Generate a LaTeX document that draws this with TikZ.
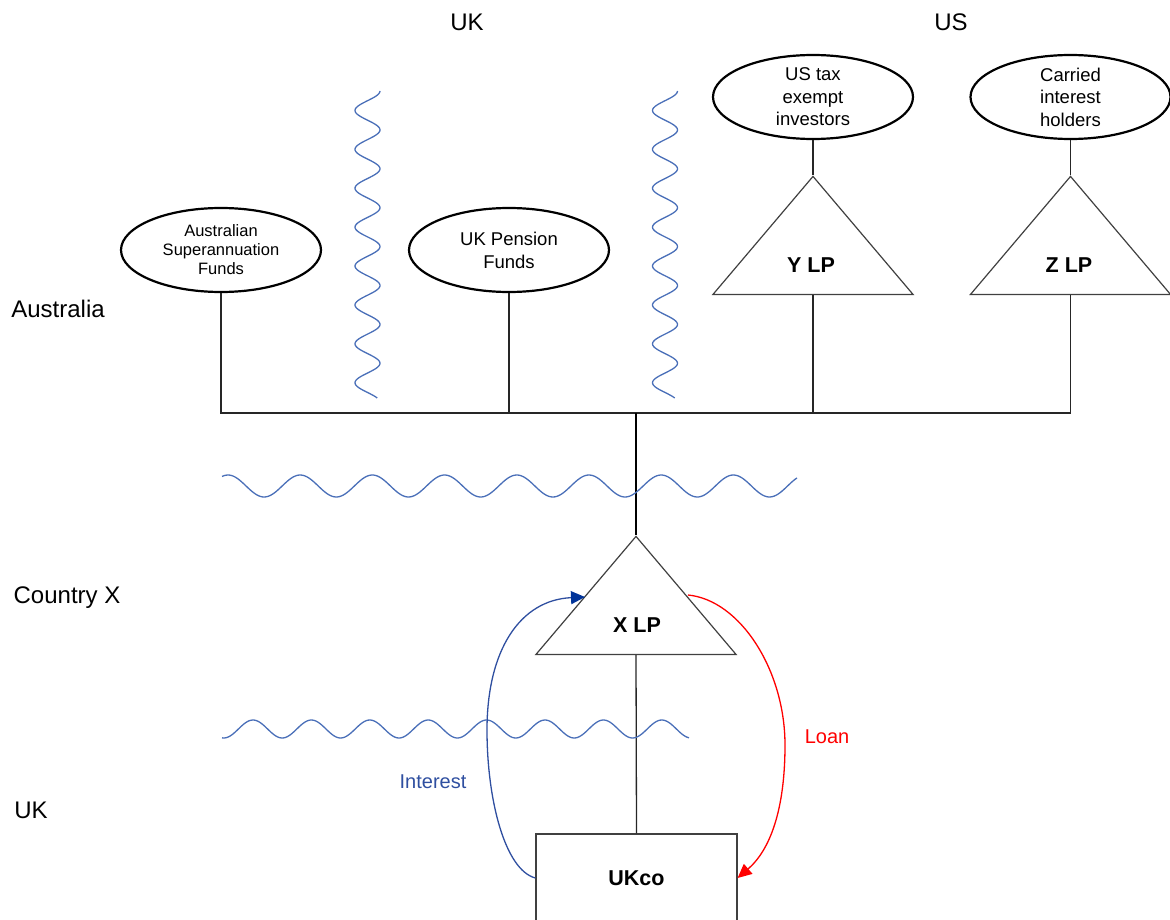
\documentclass[tikz,border=0pt]{standalone}
\usepackage{fontspec}
\setmainfont{Liberation Sans}
\usetikzlibrary{shapes.geometric,arrows.meta}
\definecolor{wavecol}{HTML}{4A6FB8}
\definecolor{intcol}{HTML}{2F4FA0}
\definecolor{navy}{HTML}{003399}
\newcommand{\regfont}{\fontsize{24}{28}\selectfont}
\newcommand{\fundfont}{\fontsize{18.5}{22.5}\selectfont}
\newcommand{\lpfont}{\bfseries\fontsize{21.5}{24}\selectfont}
\tikzset{fund/.style={ellipse, draw=black, line width=2.2pt, minimum width=200pt, minimum height=84pt, inner sep=0pt, align=center, font=\fundfont}}
\tikzset{lp/.style={isosceles triangle, isosceles triangle stretches, shape border rotate=90, draw=black!75, line width=1.2pt, minimum width=200pt, minimum height=118pt, inner sep=0pt, anchor=lower side}}
\tikzset{wave/.style={draw=wavecol, line width=1.3pt}}
\tikzset{link/.style={draw=black!85, line width=1.3pt}}
\tikzset{region/.style={font=\regfont}}

\begin{document}
\begin{tikzpicture}[x=1pt, y=-1pt]
  \useasboundingbox (0,0) rectangle (1170,920);

  \node[region] (uktop) at (467,22) {UK};
  \node[region] (ustop) at (951,22) {US};
  \node[region] (aus) at (58,309) {Australia};
  \node[region] (ctyx) at (67,598) {Country X};
  \node[region] (ukbot) at (31,810) {UK};

  \node[fund, font=\fontsize{16.5}{19}\selectfont] (asf) at (221,250) {Australian\\Superannuation\\Funds};
  \node[fund, font=\fontsize{18.5}{23}\selectfont] (ukpf) at (509,250) {UK Pension\\Funds};
  \node[fund] (ustax) at (813,97) {US tax\\exempt\\investors};
  \node[fund] (carried) at (1070.5,97) {Carried\\interest\\holders};

  \node[lp] (ylp) at (813,295) {};
  \node[lp] (zlp) at (1070.5,295) {};
  \node[lp] (xlp) at (636,655) {};
  \node[font=\lpfont] (ylptxt) at (811,265) {Y LP};
  \node[font=\lpfont] (zlptxt) at (1069,265) {Z LP};
  \node[font=\lpfont] (xlptxt) at (637,625) {X LP};

  \node[draw=black!75, line width=1.2pt, minimum width=201pt, minimum height=88pt, font=\lpfont] (ukco) at (636.5,878) {UKco};

  \draw[link] (ustax.south) -- (ylp.apex);
  \draw[link] (carried.south) -- (zlp.apex);

  % ownership bus
  \coordinate (bus) at (636,413);
  \draw[link] (asf.south) -- (asf.south |- bus) -- (zlp.lower side |- bus) -- (zlp.lower side);
  \draw[link] (ukpf.south) -- (ukpf.south |- bus);
  \draw[link] (ylp.lower side) -- (ylp.lower side |- bus);
  \draw[link, line width=2.4pt, draw=black] (bus) -- (xlp.apex);
  \draw[link] (xlp.lower side) -- (ukco.north);

  % borders
  \draw[wave] plot[domain=91:398, samples=240, smooth] ({367.5+12.5*cos(360/38.9*(\x-91))}, \x);
  \draw[wave] plot[domain=91:398, samples=240, smooth] ({665+12.5*cos(360/38.9*(\x-91))}, \x);
  \draw[wave] plot[domain=222:797, samples=300, smooth] (\x, {486-11*cos(360/72.2*(\x-228))});
  \draw[wave] plot[domain=222:689, samples=260, smooth] (\x, {729-9*cos(360/58.4*(\x-253))});

  % loan and interest
  \coordinate (xin) at (585,597);
  \coordinate (xout) at (688,595);
  \draw[intcol, line width=1.3pt, -{Triangle[length=14pt, width=13pt, color=navy]}] (ukco.west) .. controls (505,870) and (487,800) .. (487,730) .. controls (487,650) and (520,600) .. (xin);
  \draw[red, line width=1.3pt, -{Triangle[length=14pt, width=13pt]}] (xout) .. controls (740,600) and (785,670) .. (785,745) .. controls (785,810) and (770,850) .. (ukco.east);
  \node[text=red, font=\fontsize{20}{24}\selectfont] (loan) at (827,737) {Loan};
  \node[text=intcol, font=\fontsize{20}{24}\selectfont] (interest) at (433,782) {Interest};
\end{tikzpicture}
\end{document}
